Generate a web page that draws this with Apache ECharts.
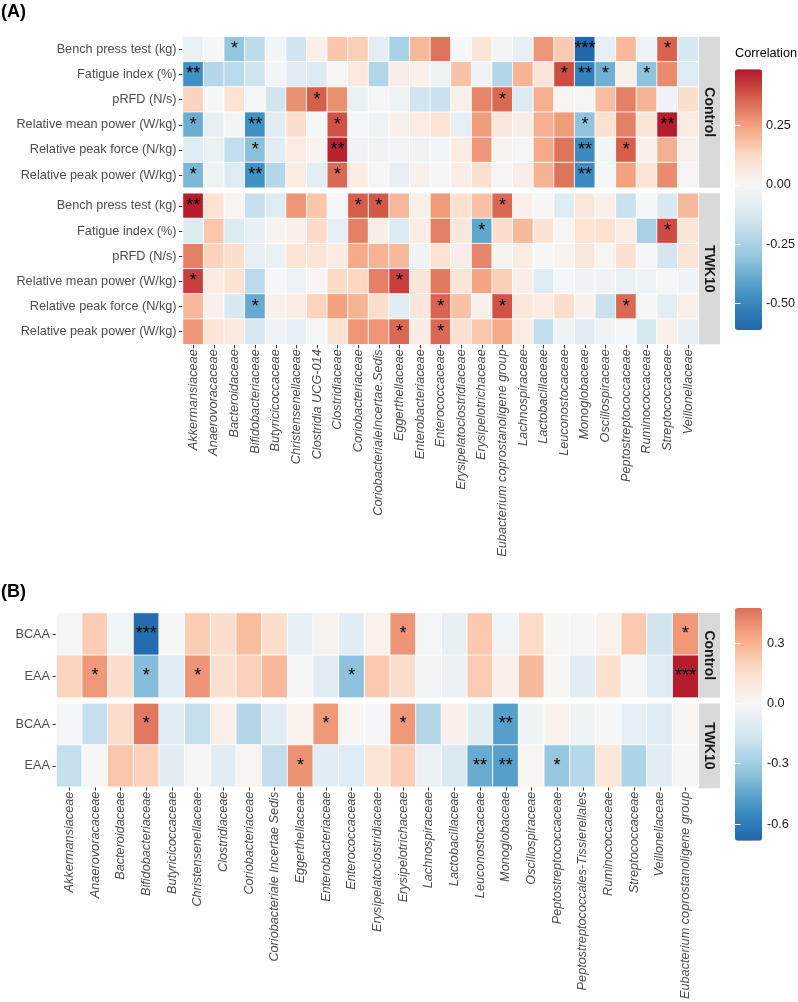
<!DOCTYPE html>
<html>
<head>
<meta charset="utf-8">
<script src="https://cdn.jsdelivr.net/npm/echarts@6.0.0/dist/echarts.min.js"></script>
<style>
  html, body { margin: 0; padding: 0; background: #fff; }
  #chart { width: 798px; height: 1002px; }
</style>
</head>
<body>
<div id="chart"></div>
<script>
// ---- panel A data ----
const aTaxa = ['Akkermansiaceae', 'Anaerovoracaceae', 'Bacteroidaceae', 'Bifidobacteriaceae', 'Butyricicoccaceae',
  'Christensenellaceae', 'Clostridia UCG-014', 'Clostridiaceae', 'Coriobacteriaceae', 'CoriobacterialeIncertae.Sedis',
  'Eggerthellaceae', 'Enterobacteriaceae', 'Enterococcaceae', 'Erysipelatoclostridiaceae', 'Erysipelotrichaceae',
  'Eubacterium coprostanoligene group', 'Lachnospiraceae', 'Lactobacillaceae', 'Leuconostocaceae', 'Monoglobaceae',
  'Oscillospiraceae', 'Peptostreptococcaceae', 'Ruminococcaceae', 'Streptococcaceae', 'Veillonellaceae']
const aTraits = ['Bench press test (kg)', 'Fatigue index (%)', 'pRFD (N/s)',
  'Relative mean power (W/kg)', 'Relative peak force (N/kg)', 'Relative peak power (W/kg)']

const aControl = [
  [-0.05, -0.01, -0.30, -0.20, -0.02, -0.15, 0.03, 0.17, 0.15, -0.08, -0.25, 0.20, 0.33, -0.01, 0.08, -0.02, -0.07, 0.27, 0.16, -0.61, -0.07, 0.20, -0.03, 0.36, -0.12],
  [-0.47, -0.22, -0.21, -0.16, -0.02, -0.09, -0.11, 0.01, 0.06, -0.23, 0.04, 0.03, -0.04, 0.18, -0.03, -0.23, 0.21, 0.08, 0.40, -0.52, -0.37, 0.03, -0.31, 0.29, -0.10],
  [0.14, -0.01, 0.09, 0.00, -0.15, 0.28, 0.37, 0.28, -0.05, -0.01, -0.04, -0.15, -0.17, 0.03, 0.30, 0.35, -0.11, 0.22, 0.01, 0.01, 0.19, 0.31, 0.21, -0.03, 0.11],
  [-0.38, -0.07, -0.02, -0.47, -0.09, 0.11, -0.01, 0.39, -0.01, -0.04, 0.03, 0.05, 0.09, -0.07, 0.26, 0.07, 0.04, 0.22, 0.26, -0.31, 0.10, 0.31, 0.08, 0.48, 0.05],
  [-0.10, -0.05, -0.19, -0.32, -0.09, 0.05, 0.02, 0.47, -0.03, -0.03, -0.02, -0.03, -0.02, 0.05, 0.27, 0.02, 0.00, 0.23, 0.33, -0.49, -0.02, 0.37, 0.03, 0.22, 0.03],
  [-0.35, -0.04, -0.10, -0.47, -0.22, 0.05, -0.08, 0.35, 0.05, -0.01, -0.06, 0.03, 0.00, 0.04, 0.10, 0.01, 0.04, 0.21, 0.33, -0.49, 0.00, 0.25, 0.08, 0.29, 0.01]
]
// [row, column, mark]
const aControlSig = [
  [0, 2, '*'], [0, 19, '***'], [0, 23, '*'],
  [1, 0, '**'], [1, 18, '*'], [1, 19, '**'], [1, 20, '*'], [1, 22, '*'],
  [2, 6, '*'], [2, 15, '*'],
  [3, 0, '*'], [3, 3, '**'], [3, 7, '*'], [3, 19, '*'], [3, 23, '**'],
  [4, 3, '*'], [4, 7, '**'], [4, 19, '**'], [4, 21, '*'],
  [5, 0, '*'], [5, 3, '**'], [5, 7, '*'], [5, 19, '**']
]

const aTwk10 = [
  [0.48, 0.09, 0.01, -0.18, -0.10, 0.27, 0.17, -0.01, 0.37, 0.38, 0.20, 0.03, 0.26, 0.10, 0.18, 0.35, 0.03, 0.00, -0.10, 0.07, 0.03, -0.17, -0.01, -0.12, 0.20],
  [-0.11, 0.17, -0.11, -0.07, 0.02, 0.03, 0.12, -0.07, 0.31, 0.04, -0.11, 0.05, 0.31, 0.07, -0.40, 0.11, 0.20, 0.09, 0.01, 0.09, 0.10, 0.05, -0.25, 0.40, 0.08],
  [0.31, 0.14, 0.11, -0.07, -0.05, 0.09, 0.08, 0.05, 0.23, 0.21, 0.20, -0.03, 0.09, 0.04, 0.30, 0.02, 0.05, 0.00, 0.02, 0.07, 0.01, 0.10, -0.01, -0.14, 0.08],
  [0.42, 0.05, 0.09, -0.21, -0.01, -0.04, 0.01, 0.12, 0.13, 0.31, 0.42, 0.08, 0.32, 0.08, 0.24, 0.15, 0.04, -0.10, -0.01, -0.03, -0.03, -0.05, -0.04, -0.01, -0.03],
  [0.20, 0.03, -0.12, -0.39, 0.03, 0.05, 0.14, 0.25, 0.21, 0.11, -0.09, 0.07, 0.36, 0.18, 0.03, 0.39, 0.07, 0.05, 0.11, 0.03, -0.17, 0.35, 0.00, -0.08, 0.03],
  [0.27, 0.08, 0.06, -0.12, -0.03, -0.07, -0.01, 0.09, 0.27, 0.27, 0.35, 0.05, 0.35, 0.10, 0.17, 0.23, 0.05, -0.19, -0.04, -0.09, -0.03, -0.01, -0.12, 0.03, -0.06]
]
const aTwk10Sig = [
  [0, 0, '**'], [0, 8, '*'], [0, 9, '*'], [0, 15, '*'],
  [1, 14, '*'], [1, 23, '*'],
  [3, 0, '*'], [3, 10, '*'],
  [4, 3, '*'], [4, 12, '*'], [4, 15, '*'], [4, 21, '*'],
  [5, 10, '*'], [5, 12, '*']
]

// ---- panel B data ----
const bTaxa = ['Akkermansiaceae', 'Anaerovoracaceae', 'Bacteroidaceae', 'Bifidobacteriaceae', 'Butyricicoccaceae',
  'Christensenellaceae', 'Clostridiaceae', 'Coriobacteriaceae', 'Coriobacteriale Incertae Sedis', 'Eggerthellaceae',
  'Enterobacteriaceae', 'Enterococcaceae', 'Erysipelatoclostridiaceae', 'Erysipelotrichaceae', 'Lachnospiraceae',
  'Lactobacillaceae', 'Leuconostocaceae', 'Monoglobaceae', 'Oscillospiraceae', 'Peptostreptococcaceae',
  'Peptostreptococcales-Tissierellales', 'Ruminococcaceae', 'Streptococcaceae', 'Veillonellaceae',
  'Eubacterium coprostanoligene group']
const bAminos = ['BCAA', 'EAA']

const bControl = [
  [-0.02, 0.22, -0.03, -0.66, 0.00, 0.22, 0.15, 0.27, 0.15, -0.08, 0.03, -0.10, 0.04, 0.38, -0.02, -0.07, 0.23, -0.03, 0.16, 0.01, 0.01, 0.04, 0.23, -0.16, 0.37],
  [0.19, 0.37, 0.15, -0.37, -0.11, 0.38, 0.14, 0.20, 0.28, 0.00, -0.10, -0.35, 0.23, 0.15, -0.03, -0.05, 0.22, 0.05, 0.28, 0.01, -0.10, 0.14, -0.02, -0.11, 0.67]
]
const bControlSig = [
  [0, 3, '***'], [0, 13, '*'], [0, 24, '*'],
  [1, 1, '*'], [1, 3, '*'], [1, 5, '*'], [1, 11, '*'], [1, 24, '***']
]
const bTwk10 = [
  [-0.02, -0.20, 0.15, 0.45, -0.11, -0.20, 0.05, -0.25, -0.10, 0.04, 0.37, 0.01, -0.02, 0.37, -0.25, 0.05, -0.10, -0.47, -0.04, 0.04, -0.04, -0.01, -0.08, -0.11, 0.02],
  [-0.20, 0.00, 0.24, 0.20, -0.10, 0.00, -0.10, 0.02, -0.21, 0.39, -0.10, -0.11, 0.11, 0.21, -0.06, -0.13, -0.43, -0.47, 0.02, -0.33, -0.24, 0.10, -0.27, -0.10, 0.01]
]
const bTwk10Sig = [
  [0, 3, '*'], [0, 10, '*'], [0, 13, '*'], [0, 17, '**'],
  [1, 9, '*'], [1, 16, '**'], [1, 17, '**'], [1, 19, '*']
]

// colour bar ranges and breaks
const aRange = [-0.612, 0.488]
const aTickValues = [-0.5, -0.25, 0, 0.25]
const aTickLabels = ['-0.50', '-0.25', '0.00', '0.25']
const bRange = [-0.683, 0.474]
const bCellRange = [-0.683, 0.683]
const bTickValues = [-0.6, -0.3, 0, 0.3]
const bTickLabels = ['-0.6', '-0.3', '0.0', '0.3']

const FONT = '"Liberation Sans", Arial, Helvetica, sans-serif'
const AXIS_TEXT = '#4d4d4d'

// RdBu, white at 0, each side scaled on its own
const BLUES = ['#f7f7f7', '#d1e5f0', '#92c5de', '#4393c3', '#2166ac']
const REDS = ['#f7f7f7', '#fddbc7', '#f4a582', '#d6604d', '#b2182b']

const hexRgb = (h) => [1, 3, 5].map(i => parseInt(h.substr(i, 2), 16))

const mix = (stops, t) => {
  t = Math.max(0, Math.min(1, t))
  const pos = t * (stops.length - 1)
  const i = Math.min(Math.floor(pos), stops.length - 2)
  const f = pos - i
  const a = hexRgb(stops[i]), b = hexRgb(stops[i + 1])
  const c = a.map((v, k) => Math.round(v + (b[k] - v) * f))
  return 'rgb(' + c.join(',') + ')'
}

const colorAt = (v, lo, hi) => v < 0 ? mix(BLUES, v / lo) : mix(REDS, v / hi)

const ramp = (min, max, lo, hi) => {
  const out = []
  const n = 90
  for (let i = 0; i < n; i++) {
    out.push(colorAt(min + (max - min) * i / (n - 1), lo, hi))
  }
  return out
}

const cells = (vals, sig) => {
  const marks = {}
  sig.forEach(([r, c, s]) => { marks[r + '_' + c] = s })
  const out = []
  vals.forEach((row, r) => row.forEach((v, c) => out.push([c, r, v, marks[r + '_' + c] || ''])))
  return out
}

// geometry of the facet panels
const A_LEFT = 183, A_W = 515.3
const B_LEFT = 56.5, B_W = 641.8
const STRIP_W = 21.7
const panels = [
  { left: A_LEFT, top: 36.7, width: A_W, height: 151, strip: 'Control' },
  { left: A_LEFT, top: 193.3, width: A_W, height: 151, strip: 'TWK10' },
  { left: B_LEFT, top: 613, width: B_W, height: 84.6, strip: 'Control' },
  { left: B_LEFT, top: 703.4, width: B_W, height: 84.8, strip: 'TWK10' }
]

const xAxisFor = (gi, taxa, show) => ({
  type: 'category',
  gridIndex: gi,
  data: taxa,
  axisLine: { show: false },
  splitLine: { show: false },
  axisTick: { show: show, alignWithLabel: true, interval: 0, length: 4, lineStyle: { color: '#333', width: 1 } },
  axisLabel: {
    show: show, interval: 0, rotate: 90, margin: 5,
    fontStyle: 'italic', fontSize: 12.7, fontFamily: FONT, color: AXIS_TEXT
  }
})

const yAxisFor = (gi, rows) => ({
  type: 'category',
  gridIndex: gi,
  data: rows,
  inverse: true,
  axisLine: { show: false },
  splitLine: { show: false },
  axisTick: { show: true, alignWithLabel: true, interval: 0, length: 4, lineStyle: { color: '#333', width: 1 } },
  axisLabel: { interval: 0, margin: 6.5, fontSize: 12.7, fontFamily: FONT, color: AXIS_TEXT }
})

const legendAxis = (gi, range, ticks, labels, side) => ({
  type: 'value',
  gridIndex: gi,
  position: side,
  min: range[0],
  max: range[1],
  z: 10,
  axisLine: { show: false },
  splitLine: { show: false },
  axisTick: { show: true, inside: true, length: 5.4, customValues: ticks, lineStyle: { color: '#fff', width: 1 } },
  axisLabel: {
    show: side === 'right',
    customValues: ticks,
    margin: 5,
    fontSize: 12.7,
    fontFamily: FONT,
    color: '#1a1a1a',
    formatter: (v) => {
      const i = ticks.findIndex(t => Math.abs(t - v) < 1e-9)
      return i < 0 ? '' : labels[i]
    }
  }
})

const heat = (gi, vals, sig) => ({
  type: 'heatmap',
  xAxisIndex: gi,
  yAxisIndex: gi,
  data: cells(vals, sig),
  itemStyle: { borderColor: 'rgba(255,255,255,0.85)', borderWidth: 1 },
  emphasis: { disabled: true },
  label: {
    show: true,
    formatter: (p) => p.data[3],
    color: '#000',
    fontSize: 18,
    fontFamily: FONT
  }
})

const graphics = [
  { type: 'text', x: 1, y: 12, style: { text: '(A)', fill: '#000', font: 'bold 18px ' + FONT, verticalAlign: 'middle' } },
  { type: 'text', x: 1, y: 592, style: { text: '(B)', fill: '#000', font: 'bold 18px ' + FONT, verticalAlign: 'middle' } },
  { type: 'text', x: 735, y: 53, style: { text: 'Correlation', fill: '#000', font: '12.7px ' + FONT, verticalAlign: 'middle' } }
]
panels.forEach(p => {
  const sx = p.left + p.width
  graphics.push({
    type: 'rect',
    shape: { x: sx, y: p.top, width: STRIP_W, height: p.height },
    style: { fill: '#d9d9d9' }
  })
  graphics.push({
    type: 'text',
    x: sx + STRIP_W / 2,
    y: p.top + p.height / 2,
    rotation: -Math.PI / 2,
    style: { text: p.strip, fill: '#1a1a1a', font: 'bold 14px ' + FONT, align: 'center', verticalAlign: 'middle' }
  })
})

const option = {
  backgroundColor: '#fff',
  animation: false,
  grid: [
    ...panels.map(p => ({ left: p.left, top: p.top, width: p.width, height: p.height })),
    { left: 735, top: 69.3, width: 27, height: 260.7 },
    { left: 735, top: 608, width: 27, height: 232.7 }
  ],
  xAxis: [
    xAxisFor(0, aTaxa, false),
    xAxisFor(1, aTaxa, true),
    xAxisFor(2, bTaxa, false),
    xAxisFor(3, bTaxa, true),
    { type: 'value', gridIndex: 4, show: false },
    { type: 'value', gridIndex: 5, show: false }
  ],
  yAxis: [
    yAxisFor(0, aTraits),
    yAxisFor(1, aTraits),
    yAxisFor(2, bAminos),
    yAxisFor(3, bAminos),
    legendAxis(4, aRange, aTickValues, aTickLabels, 'right'),
    legendAxis(4, aRange, aTickValues, aTickLabels, 'left'),
    legendAxis(5, bRange, bTickValues, bTickLabels, 'right'),
    legendAxis(5, bRange, bTickValues, bTickLabels, 'left')
  ],
  visualMap: [
    {
      type: 'continuous', seriesIndex: [0, 1], dimension: 2,
      min: aRange[0], max: aRange[1],
      inRange: { color: ramp(aRange[0], aRange[1], aRange[0], aRange[1]) },
      left: 735, top: 69.3, itemWidth: 27, itemHeight: 260.7,
      padding: 0, calculable: false, hoverLink: false
    },
    {
      type: 'continuous', seriesIndex: [2, 3], dimension: 2, show: false,
      min: bCellRange[0], max: bCellRange[1],
      inRange: { color: ramp(bCellRange[0], bCellRange[1], bCellRange[0], bCellRange[1]) }
    },
    {
      // legend bar for panel B only
      type: 'continuous', seriesIndex: [],
      min: bRange[0], max: bRange[1],
      inRange: { color: ramp(bRange[0], bRange[1], bCellRange[0], bCellRange[1]) },
      left: 735, top: 608, itemWidth: 27, itemHeight: 232.7,
      padding: 0, calculable: false, hoverLink: false
    }
  ],
  graphic: graphics,
  series: [
    heat(0, aControl, aControlSig),
    heat(1, aTwk10, aTwk10Sig),
    heat(2, bControl, bControlSig),
    heat(3, bTwk10, bTwk10Sig)
  ]
}

const chart = echarts.init(document.getElementById('chart'), null, { renderer: 'canvas' })
chart.setOption(option)
</script>
</body>
</html>
